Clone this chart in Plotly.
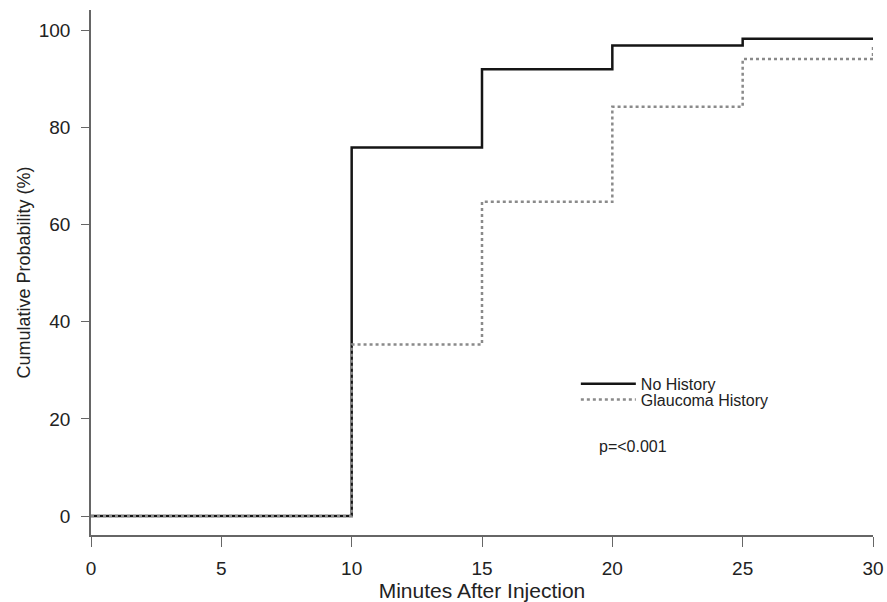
import plotly.graph_objects as go

minutes = [0, 10, 15, 20, 25, 30]
no_history = [0, 75.9, 92.0, 96.9, 98.3, 98.5]
glaucoma_history = [0, 35.3, 64.7, 84.3, 94.1, 97.1]
x_ticks = [0, 5, 10, 15, 20, 25, 30]
y_ticks = [0, 20, 40, 60, 80, 100]

fig = go.Figure()
fig.add_trace(go.Scatter(x=minutes, y=no_history, mode="lines", line_shape="hv",
                         name="No History", legend="legend",
                         line=dict(color="#151515", width=2.5)))
fig.add_trace(go.Scatter(x=minutes, y=glaucoma_history, mode="lines", line_shape="hv",
                         name="Glaucoma History", legend="legend2",
                         line=dict(color="#8a8a8a", width=2.5, dash="dot")))

font = "Liberation Sans, Arial, sans-serif"
leg_common = dict(xanchor="left", yanchor="middle", font=dict(family=font, size=16, color="#222222"),
                  bgcolor="rgba(0,0,0,0)", itemwidth=55, borderwidth=0)
fig.update_layout(
    width=887, height=602,
    margin=dict(l=91, r=14, t=10, b=67),
    plot_bgcolor="white", paper_bgcolor="white",
    font=dict(family=font, size=19, color="#222222"),
    showlegend=True,
    legend=dict(x=0.62, y=0.288, **leg_common),
    legend2=dict(x=0.62, y=0.258, **leg_common),
    xaxis=dict(range=[0, 30], tickvals=x_ticks, showgrid=False, zeroline=False,
               showline=True, linecolor="#666666", linewidth=1.5, automargin=False,
               ticks="outside", ticklen=10, tickcolor="#666666", ticklabelstandoff=5,
               tickfont=dict(family=font, size=19, color="#222222"),
               title=dict(text="Minutes After Injection", standoff=5,
                          font=dict(family=font, size=21, color="#222222"))),
    yaxis=dict(range=[-3.9, 104.2], tickvals=y_ticks, showgrid=False, zeroline=False,
               showline=True, linecolor="#666666", linewidth=1.5, automargin=False,
               ticks="outside", ticklen=8, tickcolor="#666666", ticklabelstandoff=7,
               tickfont=dict(family=font, size=19, color="#222222"),
               title=dict(text="Cumulative Probability (%)", standoff=3,
                          font=dict(family=font, size=18, color="#222222"))),
    annotations=[dict(x=19.41, y=14.4, xref="x", yref="y", text="p=<0.001",
                      showarrow=False, xanchor="left", yanchor="middle",
                      font=dict(family=font, size=16, color="#222222"))],
)
fig.write_html("out.html", config={"displayModeBar": False},
               post_script="document.body.style.margin='0px';document.body.style.overflow='hidden';")
